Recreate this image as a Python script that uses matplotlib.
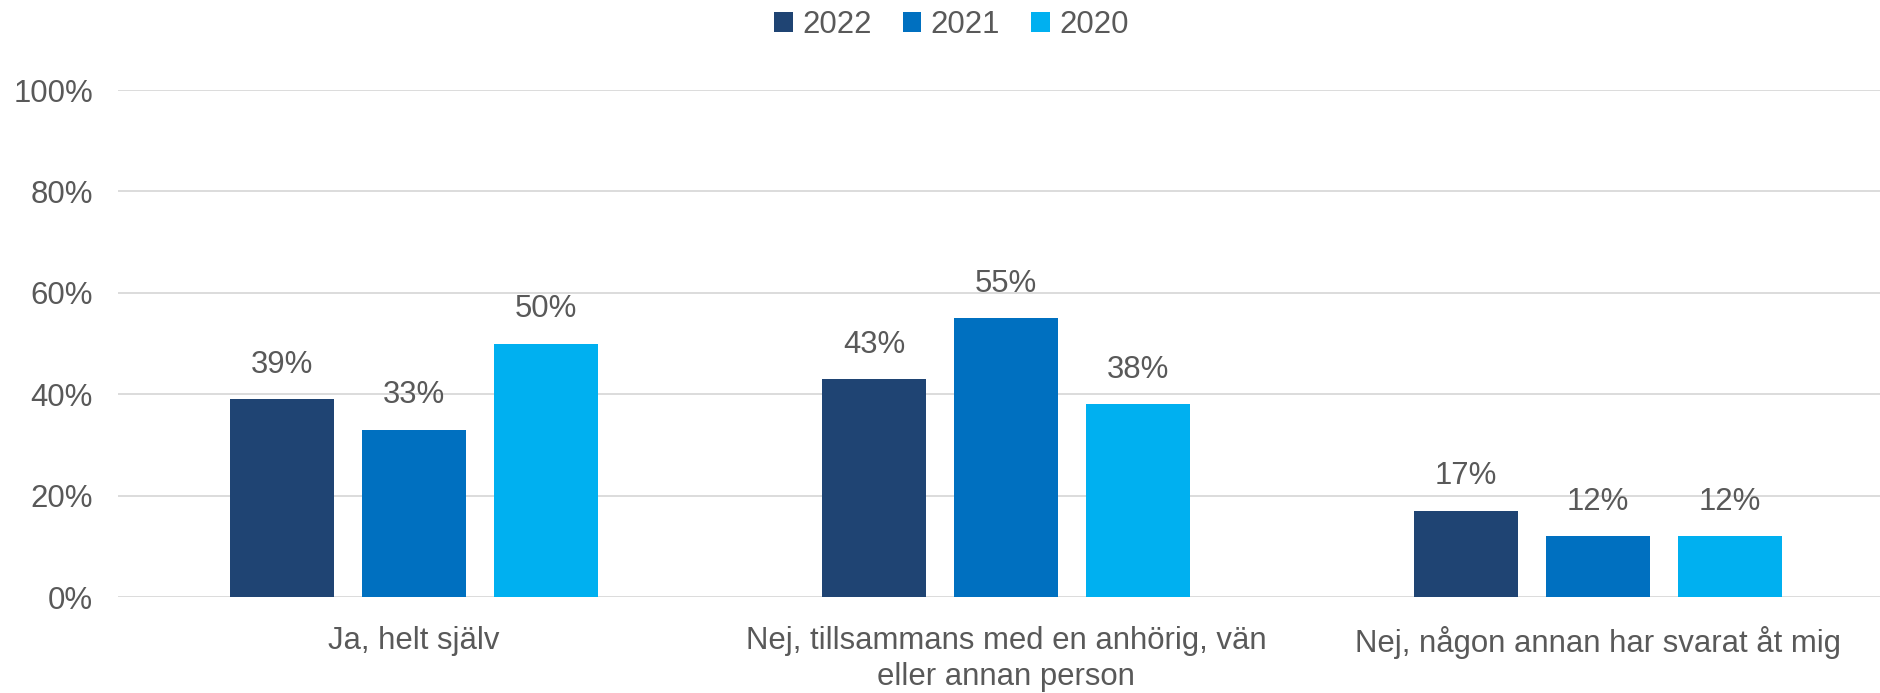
import matplotlib.pyplot as plt
import numpy as np
from matplotlib.ticker import FuncFormatter

plt.rcParams["font.family"] = ["Liberation Sans", "DejaVu Sans"]

categories = ["Ja, helt själv",
              "Nej, tillsammans med en anhörig, vän\neller annan person",
              "Nej, någon annan har svarat åt mig"]
years = ["2022", "2021", "2020"]
values = {
    "2022": [39, 43, 17],
    "2021": [33, 55, 12],
    "2020": [50, 38, 12],
}
colors = {"2022": "#1F4473", "2021": "#0070C0", "2020": "#00B0F0"}

text_color = "#595959"
grid_color = "#D9D9D9"
fs = 22.4

fig = plt.figure(figsize=(18.8, 6.93), dpi=100)
ax = fig.add_axes([0.0628, 0.1385, 0.9447, 0.7316])

x = np.arange(len(categories))
width = 0.176
step = 0.223
for i, year in enumerate(years):
    pos = x + (i - 1) * step
    bars = ax.bar(pos, values[year], width, color=colors[year], label=year, zorder=3)
    for b, v in zip(bars, values[year]):
        ax.annotate(f"{v}%", (b.get_x() + b.get_width() / 2, v),
                    xytext=(0, 14), textcoords="offset points",
                    ha="center", va="bottom", fontsize=fs, color=text_color)

ax.set_xlim(-0.5, len(categories) - 0.5)
ax.set_ylim(0, 100)
ax.set_yticks(range(0, 101, 20))
ax.yaxis.set_major_formatter(FuncFormatter(lambda v, _: f"{v:.0f}%"))
ax.set_xticks(x)
ax.set_xticklabels(categories, linespacing=1.25)
ax.tick_params(axis="both", length=0, labelsize=fs, labelcolor=text_color)
ax.tick_params(axis="y", pad=18)
ax.tick_params(axis="x", pad=21)
ax.grid(axis="y", color=grid_color, linewidth=1.3, zorder=0)
for s in ax.spines.values():
    s.set_visible(False)

fig.legend(loc="upper center", bbox_to_anchor=(0.506, 1.026), ncol=3, frameon=False,
           fontsize=fs, labelcolor=text_color, handlelength=0.6, handleheight=0.6,
           handletextpad=0.3, columnspacing=1.0)

fig.savefig("out.png", dpi=100)
